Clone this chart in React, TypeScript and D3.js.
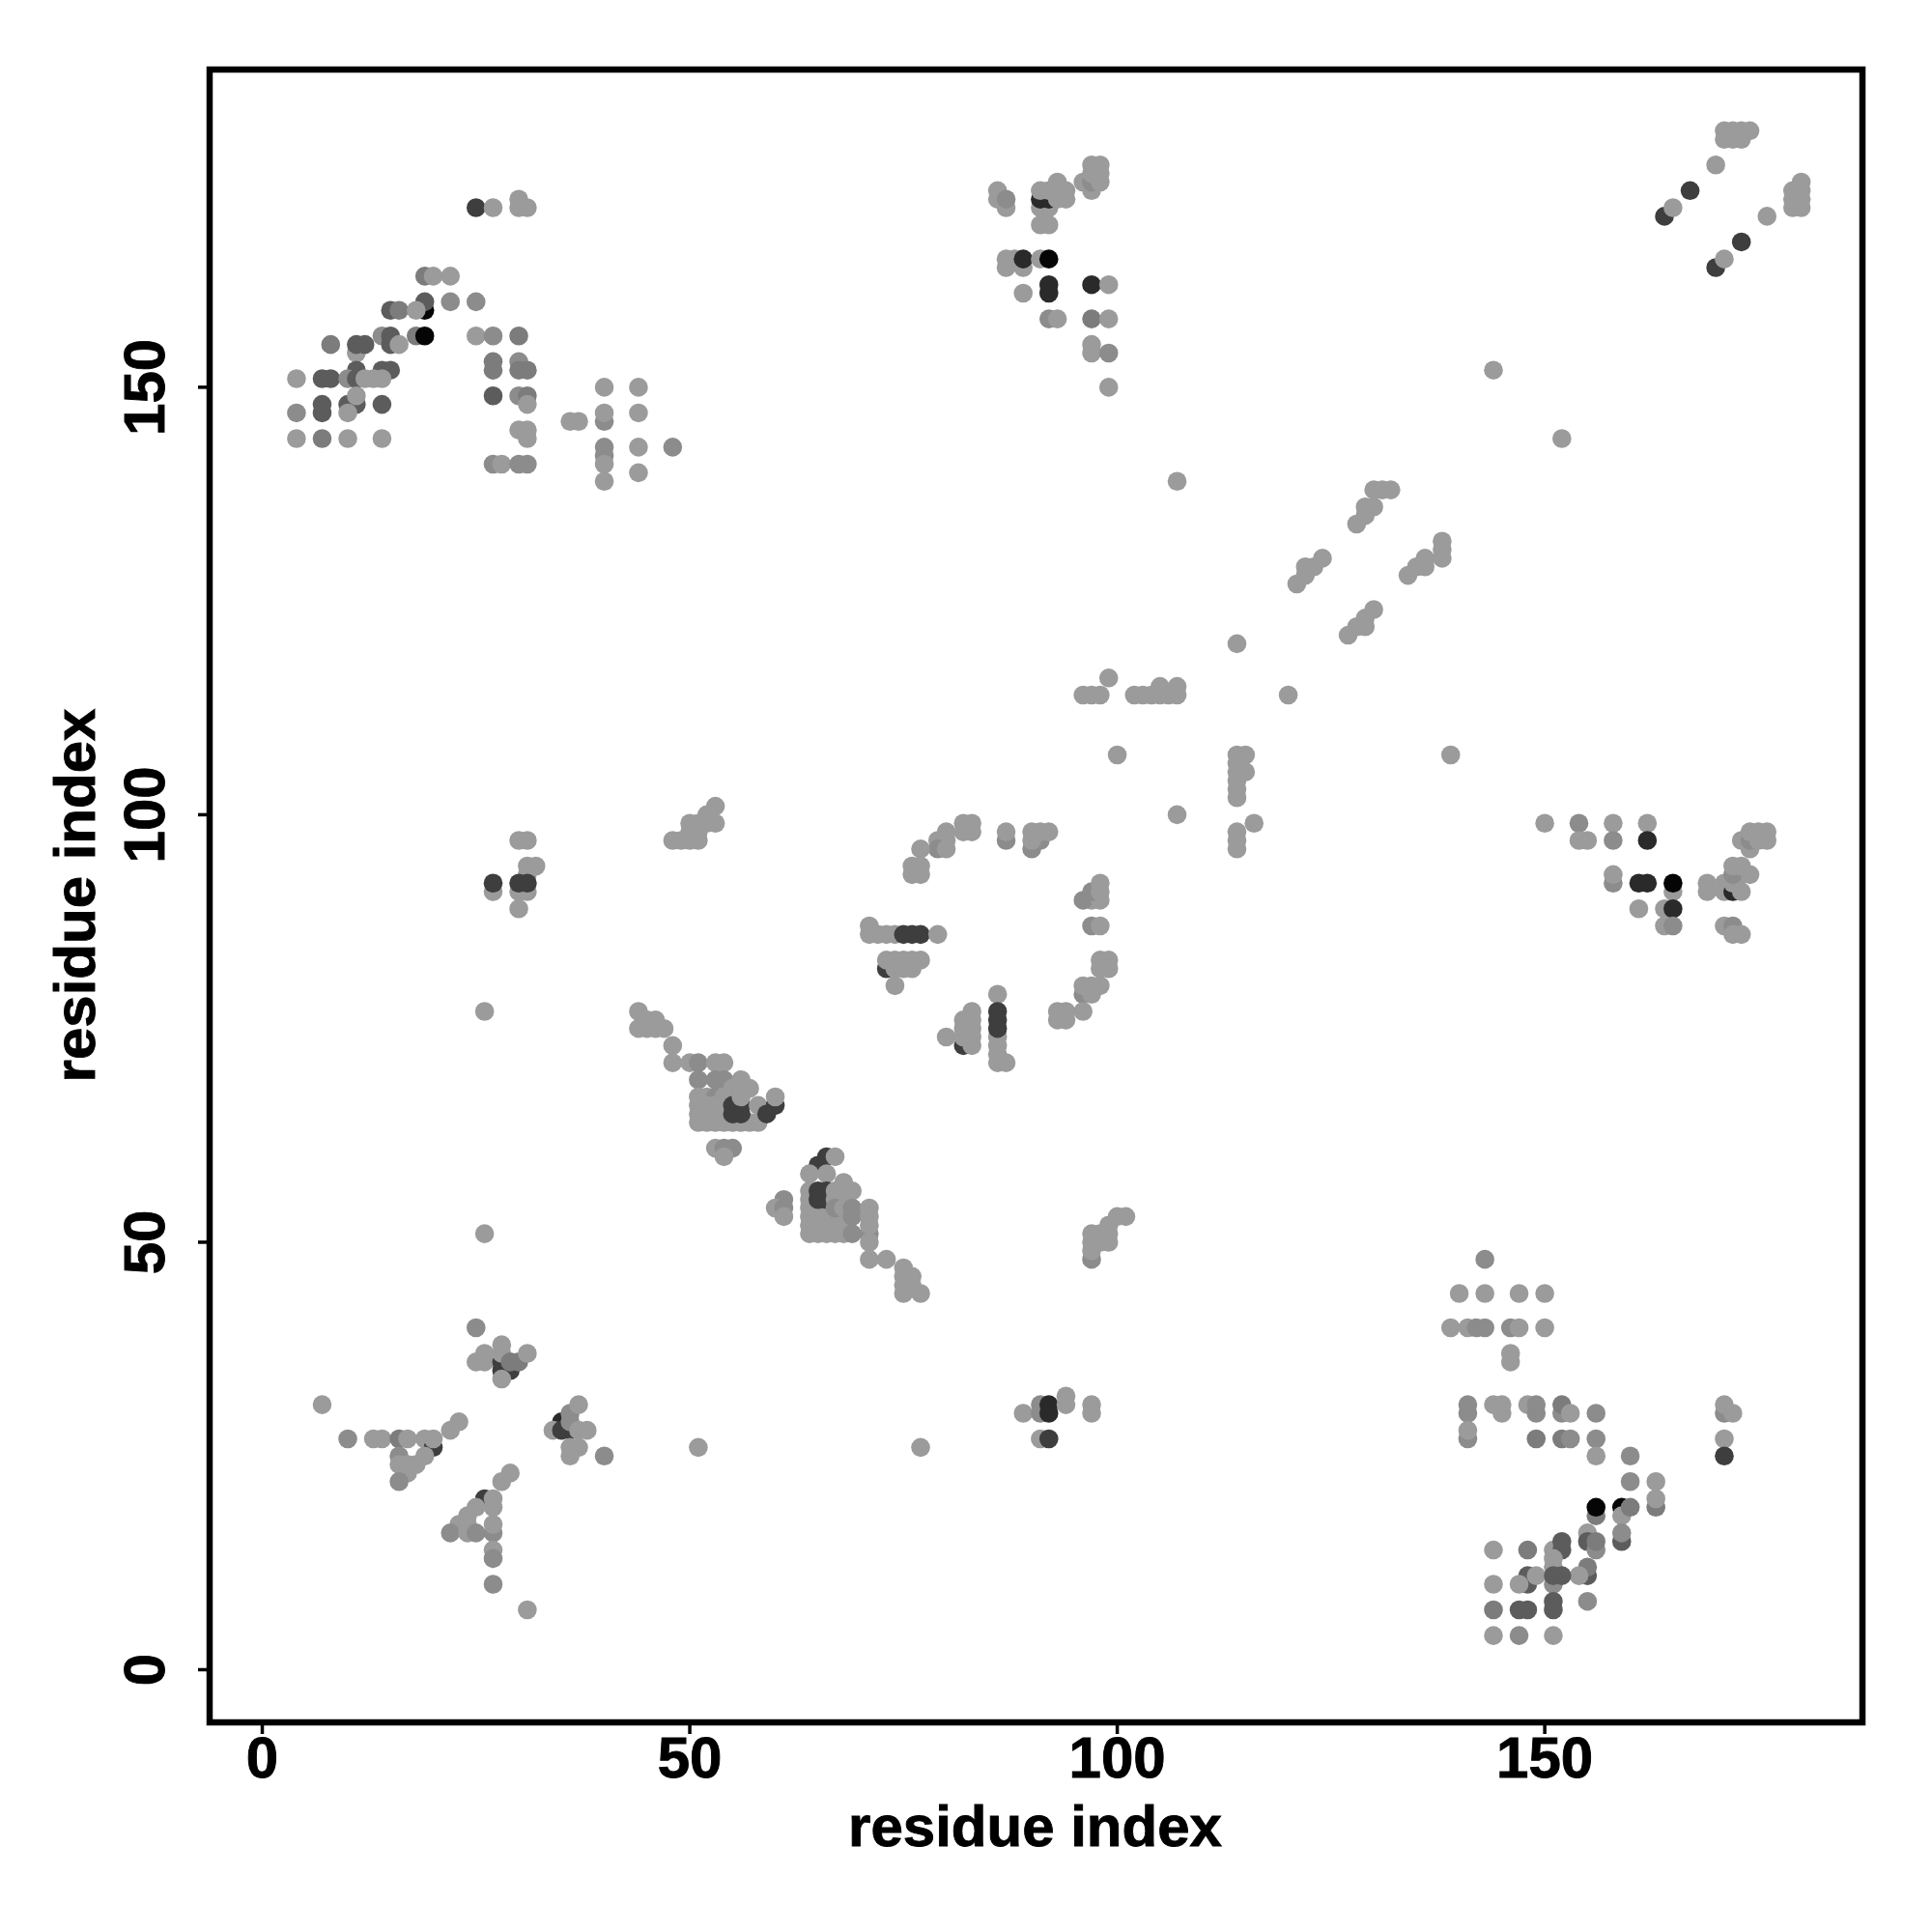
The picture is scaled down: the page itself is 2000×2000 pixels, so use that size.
import React from "react";
import * as d3 from "d3";

type P = [number, number, number];
const L = 155, M = 140, N = 124, D = 92, E = 62, F = 42, K = 5;

const topLeft: P[] = [
  [25,171,E],[27,171,L],[30,172,L],[30,171,L],[31,171,L],
  [19,163,N],[20,163,L],[22,163,L],
  [19,159,K],[19,160,D],[22,160,M],[25,160,M],[15,159,D],[16,159,N],[18,159,L],
  [14,156,M],[15,156,D],[18,156,N],[19,156,K],[25,156,L],[27,156,M],[30,156,N],
  [8,155,N],[11,154,L],[11,155,D],[12,155,D],[15,155,D],[16,155,L],
  [11,152,D],[14,152,D],[15,152,D],[27,153,N],[27,152,N],[30,153,M],[30,152,N],[31,152,N],
  [4,151,L],[7,151,D],[8,151,D],[10,151,M],[11,151,D],[12,151,L],[13,151,L],[14,151,L],
  [27,149,D],[30,149,M],[31,149,N],
  [7,148,D],[10,148,D],[11,148,D],[14,148,D],[31,148,L],[11,149,L],
  [4,147,M],[7,147,D],[10,147,L],
  [30,145,L],[31,145,L],[4,144,L],[7,144,N],[10,144,L],[14,144,L],[31,144,L],
  [27,141,M],[28,141,L],[30,141,M],[31,141,M],
  [40,150,L],[44,150,L],[40,146,M],[40,147,L],[44,147,L],[36,146,L],[37,146,L],
  [40,143,M],[44,143,L],[48,143,M],[40,142,M],[40,141,L],[44,140,L],[40,139,L],
];

const topMiddle: P[] = [
  [86,173,L],[86,172,L],[87,171,L],[87,172,M],
  [91,171,L],[92,171,L],[91,172,F],[92,172,F],[91,173,L],[92,173,L],[93,172,L],[94,172,L],[93,174,L],[94,173,L],
  [91,169,L],[92,169,L],
  [97,173,L],[96,174,L],[97,174,M],[98,174,L],[97,175,L],[98,175,L],[97,176,L],[98,176,L],
  [87,164,L],[89,164,L],[87,165,L],[88,165,L],[89,165,F],[91,165,L],[92,165,K],
  [92,161,F],[92,162,F],[97,162,F],[99,162,L],[89,161,L],
  [92,158,M],[93,158,L],[97,158,N],[99,158,L],[97,155,L],[97,154,L],[99,154,M],[99,150,L],
];

const topRight: P[] = [
  [171,179,L],[172,179,L],[173,179,L],[171,180,L],[172,180,L],[173,180,L],[174,180,L],
  [170,176,L],[167,173,E],[164,170,E],[165,171,L],
  [176,170,L],[179,171,L],[180,171,L],[179,172,L],[180,172,L],[179,173,L],[180,173,L],[180,174,L],
  [173,167,E],[170,164,E],[171,165,L],
];

const rightMiddle: P[] = [
  [150,99,L],[154,99,M],[158,99,L],[162,99,L],[154,97,L],[155,97,L],[158,97,M],[162,97,F],
  [158,92,M],[158,93,L],[161,92,F],[162,92,F],[165,91,L],[165,92,K],
  [169,92,L],[169,91,L],[171,92,L],[171,91,L],
  [172,91,F],[173,91,L],[172,92,L],[173,93,L],[172,93,M],[174,93,L],[172,94,L],[173,94,L],
  [161,89,L],[164,89,L],[165,89,F],[164,87,L],[165,87,M],[171,87,L],[172,87,M],[172,86,L],[173,86,L],
  [173,97,L],[174,96,L],[174,97,M],[175,97,L],[176,97,L],[174,98,L],[175,98,L],[176,98,L],
];

const lowerRight: P[] = [
  [143,48,M],[140,44,L],[143,44,L],[147,44,L],[150,44,L],
  [139,40,L],[141,40,L],[142,40,M],[143,40,M],[146,40,M],[147,40,L],[150,40,L],[146,36,L],[146,37,L],
  [141,30,M],[141,31,M],[144,31,L],[145,30,L],[145,31,L],[148,31,L],[149,30,M],[149,31,M],[152,30,M],[152,31,N],[153,30,L],[156,30,M],
  [141,27,M],[141,28,L],[149,27,N],[152,27,N],[153,27,M],[156,27,M],[156,25,L],[160,25,M],
  [171,30,M],[171,31,L],[172,30,L],[171,27,L],[171,25,E],
  [160,22,M],[163,22,L],[163,19,N],[163,20,L],[156,18,N],[156,19,K],[159,19,K],[159,18,L],[160,19,N],
  [155,16,L],[159,15,D],[159,16,M],[155,15,D],[156,14,M],[156,15,N],
  [144,14,L],[148,14,N],[151,14,L],[152,14,D],[152,15,D],[151,13,L],[151,12,L],[155,11,D],[155,12,N],[154,11,L],
  [148,10,D],[148,11,D],[149,11,L],[147,10,L],[144,10,L],[151,10,M],[151,11,D],[152,11,D],[151,8,D],[155,8,M],
  [144,7,N],[147,7,D],[148,7,D],[151,7,D],[144,4,L],[147,4,M],[151,4,L],
];

const lowerLeft: P[] = [
  [25,40,M],[25,36,L],[26,36,L],[26,37,L],[28,36,E],[28,35,E],[29,35,E],[28,34,L],[28,37,L],[28,38,L],[29,36,N],[30,36,N],[31,37,L],
  [7,31,L],[10,27,M],[13,27,L],[14,27,L],[16,27,N],[17,27,L],[19,27,L],[20,26,E],[20,27,L],[22,28,L],[23,29,L],
  [16,25,M],[16,24,L],[17,24,L],[18,24,L],[19,25,L],[17,23,L],[16,22,M],
  [29,23,L],[28,22,L],[26,20,E],[27,20,L],[27,19,L],[25,19,L],[24,18,L],[23,17,L],[24,17,L],[22,16,M],[24,16,L],[25,16,M],
  [27,16,M],[27,17,L],[27,14,L],[27,13,M],[27,10,M],[31,7,L],
  [35,29,F],[34,28,L],[35,28,E],[36,28,E],[36,29,M],[36,30,M],[37,31,L],[37,28,L],[38,28,L],
  [36,26,L],[37,26,L],[36,25,L],[40,25,M],
  [51,26,L],[77,26,L],[26,51,L],[26,77,L],
  [89,30,L],[91,31,M],[91,30,M],[92,31,F],[92,30,F],[94,31,L],[94,32,L],[97,30,L],[97,31,L],[91,27,L],[92,27,E],
  [30,97,L],[31,97,L],[31,94,L],[32,94,L],[31,93,L],[27,91,L],[30,91,L],[31,91,L],[27,92,E],[30,92,E],[31,92,E],[30,89,L],
];

const diagonalLower: P[] = [
  [44,77,L],[45,76,L],[46,76,L],[44,75,L],[45,75,L],[46,75,L],[47,75,L],[48,73,L],[48,71,L],[50,71,L],[51,71,M],[53,71,L],[54,71,L],
  [51,69,M],[53,69,M],[54,69,M],[56,69,L],[55,68,L],[56,68,L],[57,68,L],
  [51,67,L],[52,67,L],[53,67,M],[54,67,L],[51,66,L],[52,66,L],[53,66,L],[54,66,L],
  [51,65,L],[52,65,L],[53,65,L],[54,65,L],[51,64,L],[52,64,L],[53,64,L],[54,64,L],[55,64,L],[56,64,L],[57,64,L],
  [55,66,E],[56,66,E],[55,65,E],[56,65,E],[56,67,L],[58,66,L],[58,64,L],[60,66,E],[59,65,E],[60,67,L],
  [53,61,L],[54,61,M],[55,61,M],[54,60,L],
  [66,60,E],[65,59,E],[67,60,L],[64,58,L],[66,58,L],
  [64,56,L],[64,55,L],[64,54,L],[64,53,L],[64,52,L],[64,51,L],[65,54,L],[65,53,L],[65,52,L],[65,51,L],[66,54,L],[66,53,L],[66,52,L],[66,51,L],[67,53,L],[67,52,L],[67,51,L],[68,52,L],[68,51,L],
  [65,56,E],[66,56,E],[65,55,E],[66,55,E],[67,56,L],[68,56,L],[68,57,L],[69,56,L],[67,55,L],[68,55,L],[67,54,M],[68,54,L],
  [61,55,M],[60,54,L],[61,54,M],[61,53,L],
  [69,54,M],[69,53,M],[71,54,L],[71,53,L],[69,51,M],[71,51,M],[71,52,L],[71,50,L],[71,48,L],[73,48,L],
  [75,47,L],[75,46,L],[76,46,L],[75,45,L],[76,45,L],[75,44,L],[77,44,L],
];

const diagonalMiddle: P[] = [
  [82,99,L],[83,99,L],[82,98,L],[83,98,L],[80,98,L],[79,97,L],[80,97,L],[79,96,M],[80,96,L],[77,96,L],[76,94,L],[77,94,L],[76,93,L],[77,93,L],
  [87,97,M],[87,98,L],[90,96,M],[91,97,M],[90,97,L],[90,98,L],[91,98,L],[92,98,L],
  [97,90,L],[96,90,M],[98,90,L],[97,91,M],[98,91,L],[98,92,L],[97,87,M],[98,87,L],
  [98,83,L],[99,83,L],[98,82,L],[99,82,L],[96,79,M],[97,79,L],[96,80,L],[97,80,L],[98,80,L],[96,77,L],[93,77,L],[94,77,L],[93,76,L],[94,76,L],
  [71,87,L],[71,86,L],[72,86,L],[73,86,L],[74,86,L],[75,86,E],[76,86,E],[77,86,E],[79,86,L],
  [73,82,E],[73,83,L],[74,83,L],[75,83,L],[76,83,L],[77,83,L],[74,82,L],[75,82,L],[76,82,L],[74,80,L],
  [86,79,L],[86,72,L],[86,73,L],[86,74,L],[86,71,L],[87,71,L],[86,77,E],[86,76,E],[86,75,E],
  [82,73,E],[83,73,L],[83,77,L],[82,76,L],[83,76,L],[82,75,L],[83,75,L],[80,74,L],[82,74,L],[83,74,L],
  [48,97,L],[49,97,L],[50,97,L],[51,97,L],[50,98,L],[51,98,L],[50,99,L],[51,99,L],[52,99,L],[53,99,L],[52,100,L],[53,101,L],
  [97,48,M],[97,49,L],[97,50,L],[97,51,L],[98,50,L],[98,51,L],[99,50,L],[99,51,L],[99,52,L],[100,53,L],[101,53,L],
];

const diagonalUpper: P[] = [
  [96,114,L],[97,114,L],[98,114,L],[99,116,L],[102,114,L],[103,114,L],[104,114,L],[105,114,L],[106,114,L],[107,114,L],[105,115,L],[107,115,L],
  [120,114,L],[100,107,L],[107,100,L],[114,120,L],[107,139,L],[139,107,L],[144,152,L],[152,144,L],
  [114,107,L],[115,107,L],[114,106,L],[114,105,L],[115,105,L],[114,104,L],[114,103,L],[114,102,L],[116,99,L],[114,98,L],[114,97,L],[114,96,L],
  [121,127,L],[122,128,L],[122,129,L],[123,129,L],[124,130,L],
  [128,134,L],[129,135,L],[129,136,L],[130,136,L],[130,138,L],[131,138,L],[132,138,L],
  [127,121,L],[128,122,L],[129,122,L],[129,123,L],[130,124,L],
  [134,128,L],[135,129,L],[136,129,L],[136,130,L],[138,130,L],[138,131,L],[138,132,L],
];

const regions = [lowerRight, lowerLeft, diagonalLower, diagonalMiddle, diagonalUpper, topLeft, topMiddle, topRight, rightMiddle];
const tickValues = [0, 50, 100, 150];
const axisTitle = "residue index";
const domain: [number, number] = [-6.16, 187.16];

const left = 217, right = 1928, top = 72, bottom = 1783;
const font = "'Liberation Sans', Arial, sans-serif";

export default function App() {
  const x = d3.scaleLinear().domain(domain).range([left, right]);
  const y = d3.scaleLinear().domain(domain).range([bottom, top]);
  const points = regions.flat();
  return (
    <svg width={2000} height={2000} style={{ position: "absolute", left: 0, top: 0, background: "#fff" }} fontFamily={font} fontWeight="bold" fill="#000" stroke="none">
      {points.map((p, i) => (
        <circle key={i} cx={x(p[0])} cy={y(p[1])} r={9.8} fill={d3.rgb(p[2], p[2], p[2]).formatHex()} />
      ))}
      <rect x={left} y={top} width={right - left} height={bottom - top} fill="none" stroke="#000" strokeWidth={6.5} />
      {tickValues.map((t) => (
        <g key={t}>
          <line x1={x(t)} x2={x(t)} y1={bottom} y2={bottom + 12} stroke="#000" strokeWidth={3.5} />
          <text x={x(t)} y={1840} fontSize={60} textAnchor="middle" stroke="#000" strokeWidth={0.9}>{t}</text>
          <line y1={y(t)} y2={y(t)} x1={left} x2={left - 12} stroke="#000" strokeWidth={3.5} />
          <text transform={`translate(170,${y(t)}) rotate(-90)`} fontSize={60} textAnchor="middle" stroke="#000" strokeWidth={0.9}>{t}</text>
        </g>
      ))}
      <text x={1071.5} y={1911} fontSize={60} textAnchor="middle" stroke="#000" strokeWidth={0.9}>{axisTitle}</text>
      <text transform="translate(98,927) rotate(-90)" fontSize={60} textAnchor="middle" stroke="#000" strokeWidth={0.9}>{axisTitle}</text>
    </svg>
  );
}
